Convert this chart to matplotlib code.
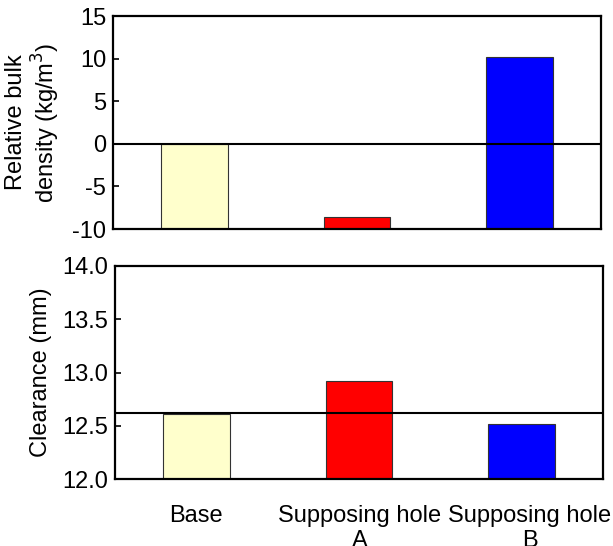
import matplotlib
matplotlib.use("Agg")
import matplotlib.pyplot as plt
import matplotlib.transforms as mtransforms

plt.rcParams["font.family"] = ["Liberation Sans", "DejaVu Sans"]
plt.rcParams["axes.unicode_minus"] = False

categories = ["Base", "Supposing hole\nA", "Supposing hole\nB"]
density = [0.0, -8.55, 10.15]
clearance = [12.61, 12.92, 12.52]
colors = ["#FFFFCC", "#FF0000", "#0000FF"]
density_ref = 0.0
clearance_ref = 12.62

W, H = 613, 546
fig = plt.figure(figsize=(W / 100, H / 100), dpi=100)
ax1 = fig.add_axes([113 / W, 1 - 229 / H, 488 / W, 213 / H])
ax2 = fig.add_axes([115 / W, 1 - 479 / H, 488 / W, 213 / H])

x = range(len(categories))

# top panel: bars grow from the bottom of the axis
bottom1 = -10
ax1.bar(x, [d - bottom1 for d in density], bottom=bottom1, width=0.41,
        color=colors, edgecolor="#333333", linewidth=0.8, zorder=2)
ax1.axhline(density_ref, color="black", linewidth=1.5, zorder=3)
ax1.set_ylim(-10, 15)
ax1.set_yticks([-10, -5, 0, 5, 10, 15])
ax1.set_xticks([])
ax1.set_ylabel("Relative bulk\ndensity (kg/m$^3$)", fontsize=17, linespacing=1.1)
ax1.yaxis.set_label_coords(-0.105, 0.5)

bottom2 = 12.0
ax2.bar(x, [c - bottom2 for c in clearance], bottom=bottom2, width=0.41,
        color=colors, edgecolor="#333333", linewidth=0.8, zorder=2)
ax2.axhline(clearance_ref, color="black", linewidth=1.5, zorder=3)
ax2.set_ylim(12.0, 14.0)
ax2.set_yticks([12.0, 12.5, 13.0, 13.5, 14.0])
ax2.set_yticklabels(["12.0", "12.5", "13.0", "13.5", "14.0"])
ax2.set_xticks(list(x))
ax2.set_xticklabels(categories, fontsize=17, linespacing=1.18)
ax2.tick_params(axis="x", length=0, pad=19)
ax2.set_ylabel("Clearance (mm)", fontsize=17)
ax2.yaxis.set_label_coords(-0.13, 0.5)

# the long labels sit a little to the right in the original
for lbl, dx in zip(ax2.get_xticklabels(), [0, 1, 8]):
    off = mtransforms.ScaledTranslation(dx / 100, 0, fig.dpi_scale_trans)
    lbl.set_transform(lbl.get_transform() + off)

for ax in (ax1, ax2):
    ax.set_xlim(-0.5, 2.5)
    ax.tick_params(axis="y", labelsize=17, length=4, width=1.2,
                   direction="in", pad=5)
    for s in ax.spines.values():
        s.set_linewidth(1.6)

fig.savefig("out.png", dpi=100)
